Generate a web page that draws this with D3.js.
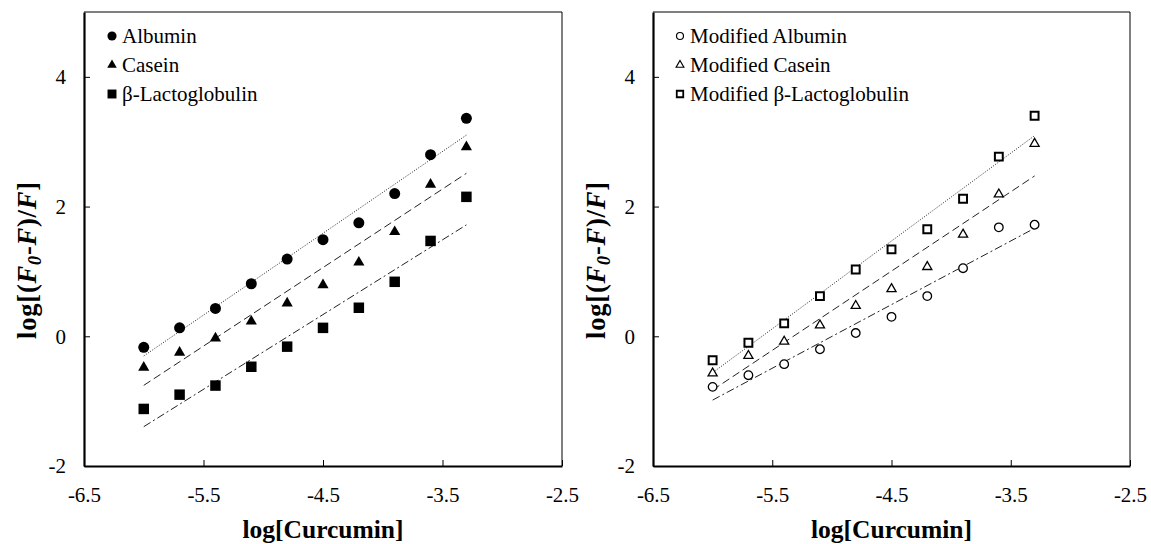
<!DOCTYPE html>
<html>
<head>
<meta charset="utf-8">
<script src="https://cdn.jsdelivr.net/npm/d3@7"></script>
<style>
  html, body { margin: 0; padding: 0; background: #fff; }
  svg { display: block; font-family: "Liberation Serif", "Times New Roman", serif; }
</style>
</head>
<body>
<svg id="chart" width="1151" height="544"></svg>
<script>
// ---- data ----
const logCurcumin = [-6.0, -5.7, -5.4, -5.1, -4.8, -4.5, -4.2, -3.9, -3.6, -3.3];
const albumin = [-0.17, 0.13, 0.43, 0.81, 1.19, 1.49, 1.75, 2.20, 2.80, 3.36];
const casein = [-0.48, -0.25, -0.03, 0.23, 0.51, 0.79, 1.14, 1.61, 2.34, 2.92];
const lactoglobulin = [-1.12, -0.90, -0.76, -0.47, -0.16, 0.13, 0.44, 0.84, 1.47, 2.15];
const modAlbumin = [-0.78, -0.60, -0.43, -0.20, 0.05, 0.30, 0.62, 1.05, 1.68, 1.72];
const modCasein = [-0.57, -0.30, -0.08, 0.17, 0.47, 0.73, 1.07, 1.57, 2.19, 2.97];
const modLactoglobulin = [-0.37, -0.10, 0.20, 0.62, 1.03, 1.34, 1.65, 2.12, 2.77, 3.40];
const xTicks = [-6.5, -5.5, -4.5, -3.5, -2.5];
const yTicks = [-2, 0, 2, 4];
const leftNames = ["Albumin", "Casein", "β-Lactoglobulin"];
const rightNames = ["Modified Albumin", "Modified Casein", "Modified β-Lactoglobulin"];

const svg = d3.select("#chart");

function regression(xs, ys) {
  const n = xs.length;
  const mx = d3.mean(xs), my = d3.mean(ys);
  let sxy = 0, sxx = 0;
  for (let i = 0; i < n; i++) { sxy += (xs[i] - mx) * (ys[i] - my); sxx += (xs[i] - mx) ** 2; }
  const b = sxy / sxx;
  return { a: my - b * mx, b };
}

const dashes = { dotted: "1,1.6", dashed: "8,4", dashdot: "8,3,2,3" };
const fmtX = d => d.toFixed(1);
const fmtY = d => String(d);

function drawPanel(cfg) {
  const g = svg.append("g");
  const x = d3.scaleLinear().domain([-6.5, -2.5]).range([cfg.x0, cfg.x1]);
  const y = d3.scaleLinear().domain([-2, 5]).range([466, 12]);

  // thin top & right frame
  g.append("line").attr("x1", x(-6.5)).attr("x2", x(-2.5)).attr("y1", y(5)).attr("y2", y(5))
    .attr("stroke", "#000").attr("stroke-width", 1);
  g.append("line").attr("x1", x(-2.5)).attr("x2", x(-2.5)).attr("y1", y(5)).attr("y2", y(-2))
    .attr("stroke", "#000").attr("stroke-width", 1);

  const xa = g.append("g").attr("transform", `translate(0,${y(-2)})`)
    .call(d3.axisBottom(x).tickValues(xTicks).tickSizeInner(-6).tickSizeOuter(0)
      .tickPadding(21).tickFormat(fmtX));
  const ya = g.append("g").attr("transform", `translate(${x(-6.5)},0)`)
    .call(d3.axisLeft(y).tickValues(yTicks).tickSizeInner(-6).tickSizeOuter(0)
      .tickPadding(18).tickFormat(fmtY));
  [xa, ya].forEach(a => {
    a.select(".domain").attr("stroke-width", 2.2);
    a.selectAll(".tick line").attr("stroke-width", 1);
    a.selectAll(".tick text").attr("font-size", 21).attr("font-family", '"Liberation Serif", serif').attr("fill", "#000");
  });

  // axis titles
  g.append("text").attr("x", (x(-6.5) + x(-2.5)) / 2).attr("y", 538)
    .attr("text-anchor", "middle").attr("font-size", 25.5).attr("font-weight", "bold")
    .text("log[Curcumin]");
  const yt = g.append("text")
    .attr("transform", `translate(${x(-6.5) - 48},${cfg.ytitleY}) rotate(-90)`)
    .attr("text-anchor", "middle").attr("font-size", 26.5).attr("font-weight", "bold")
    .attr("letter-spacing", 0.8);
  yt.append("tspan").text("log[(");
  yt.append("tspan").attr("font-style", "italic").text("F");
  yt.append("tspan").attr("font-style", "italic").attr("font-size", 18).attr("dy", 5).text("0");
  yt.append("tspan").attr("dy", -5).text("-");
  yt.append("tspan").attr("font-style", "italic").text("F");
  yt.append("tspan").text(")/");
  yt.append("tspan").attr("font-style", "italic").text("F");
  yt.append("tspan").text("]");

  // trend lines
  cfg.series.forEach(s => {
    const r = regression(logCurcumin, s.values);
    const xs = [d3.min(logCurcumin), d3.max(logCurcumin)];
    g.append("path")
      .attr("d", d3.line().x(d => x(d)).y(d => y(r.a + r.b * d))(xs))
      .attr("fill", "none").attr("stroke", "#222").attr("stroke-width", 1)
      .attr("stroke-dasharray", dashes[s.dash]);
  });

  // markers
  cfg.series.forEach(s => {
    g.selectAll(null).data(logCurcumin.map((d, i) => [d, s.values[i]])).enter()
      .append("path")
      .attr("transform", d => `translate(${x(d[0])},${y(d[1])})`)
      .attr("d", d3.symbol().type(s.type).size(s.size)())
      .attr("fill", cfg.filled ? "#000" : "#fff")
      .attr("stroke", "#000").attr("stroke-width", cfg.filled ? 0 : s.sw);
  });

  // legend
  cfg.series.forEach((s, i) => {
    const ly = 36 + i * 29;
    g.append("path").attr("transform", `translate(${x(-6.5) + cfg.legDx},${ly})`)
      .attr("d", d3.symbol().type(s.type).size(s.legSize)())
      .attr("fill", cfg.filled ? "#000" : "#fff")
      .attr("stroke", "#000").attr("stroke-width", cfg.filled ? 0 : s.sw * 0.9);
    g.append("text").attr("x", x(-6.5) + cfg.legDx + 10).attr("y", ly + 7)
      .attr("font-size", 21).text(s.name);
  });
}

drawPanel({
  x0: 84, x1: 562, filled: true, legDx: 28, ytitleY: 260,
  series: [
    { name: leftNames[0], values: albumin, type: d3.symbolCircle, size: 95, legSize: 66, dash: "dotted" },
    { name: leftNames[1], values: casein, type: d3.symbolTriangle, size: 54, legSize: 40, dash: "dashed" },
    { name: leftNames[2], values: lactoglobulin, type: d3.symbolSquare, size: 110, legSize: 80, dash: "dashdot" }
  ]
});

drawPanel({
  x0: 653, x1: 1130, filled: false, legDx: 27, ytitleY: 260,
  series: [
    { name: rightNames[0], values: modAlbumin, type: d3.symbolCircle, size: 58, legSize: 38, dash: "dashdot", sw: 1.3 },
    { name: rightNames[1], values: modCasein, type: d3.symbolTriangle, size: 36, legSize: 26, dash: "dashed", sw: 1.3 },
    { name: rightNames[2], values: modLactoglobulin, type: d3.symbolSquare, size: 62, legSize: 42, dash: "dotted", sw: 2 }
  ]
});
</script>
</body>
</html>
